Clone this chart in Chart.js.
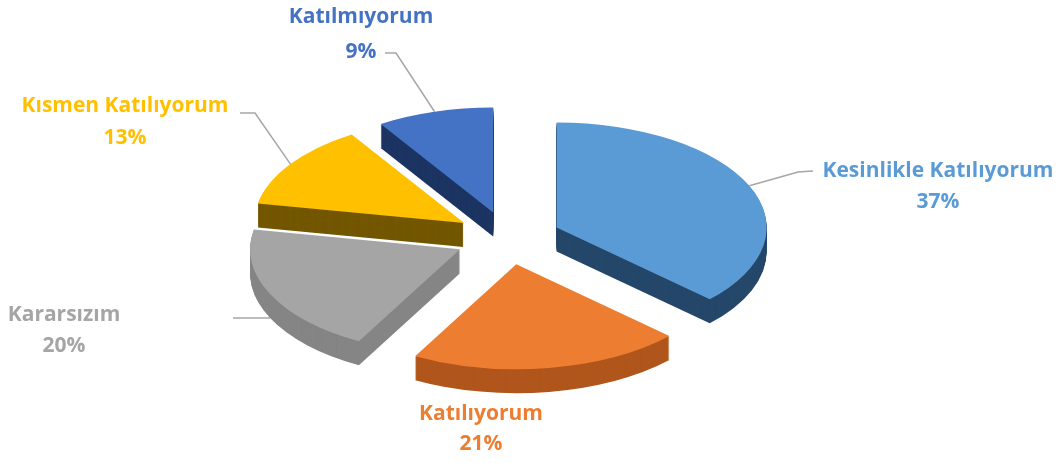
<!DOCTYPE html>
<html>
<head>
<meta charset="utf-8">
<script src="https://cdn.jsdelivr.net/npm/chart.js@4/dist/chart.umd.min.js"></script>
<style>
  html, body { margin: 0; padding: 0; background: #ffffff; }
  #wrap { width: 1064px; height: 463px; }
</style>
</head>
<body>
<div id="wrap"><canvas id="pie" width="1064" height="463"></canvas></div>
<script>
// Survey answers, clockwise from 12 o'clock
const categories = ['Kesinlikle Katılıyorum', 'Katılıyorum', 'Kararsızım', 'Kısmen Katılıyorum', 'Katılmıyorum'];
const shares = [37, 21, 20, 13, 9];
const percentLabels = ['37%', '21%', '20%', '13%', '9%'];

// Top faces and the darker extruded sides
const topColors  = ['#5b9bd5', '#ed7d31', '#a5a5a5', '#ffc000', '#4472c4'];
const sideColors = ['#24476a', '#b0561c', '#858585', '#735600', '#1c3462'];

// 3D look
const TILT = 0.5;     // vertical squash of the disc
const DEPTH = 24;     // thickness in px
const EXPLODE = 53;   // how far each slice is pulled out

// Label placement: text centre x, baselines of the two lines, leader line points
const labelLayout = [
  { x: 938, y1: 177, y2: 208, leader: [[798, 172], [813, 171]], drop: 0 },
  { x: 481, y1: 420, y2: 450, leader: null, drop: 0 },
  { x: 64,  y1: 321, y2: 352, leader: [[233, 318]], drop: DEPTH },
  { x: 125, y1: 112, y2: 144, leader: [[255, 113], [240, 113]], drop: 0 },
  { x: 361, y1: 23,  y2: 58,  leader: [[396, 53], [385, 53]], drop: 0 }
];

const FONT = 'bold 21px "Open Sans", Lato, sans-serif';

function sliceGeom(arc) {
  const mid = (arc.startAngle + arc.endAngle) / 2;
  return { mid, dx: Math.cos(mid) * EXPLODE, dy: Math.sin(mid) * EXPLODE };
}

function applyTilt(ctx, cx, cy) {
  ctx.translate(cx, cy);
  ctx.scale(1, TILT);
  ctx.translate(-cx, -cy);
}

const pie3d = {
  id: 'pie3d',
  beforeDatasetsDraw(chart) {
    const ctx = chart.ctx;
    const meta = chart.getDatasetMeta(0);
    const order = meta.data.map((arc, i) => ({ arc, i, g: sliceGeom(arc) }));
    // paint from the back of the disc to the front
    order.sort((a, b) => Math.sin(a.g.mid) - Math.sin(b.g.mid));
    for (const { arc, i, g } of order) {
      const cx = arc.x, cy = arc.y, r = arc.outerRadius;
      // extruded side: stacked copies of the wedge shifted downwards
      for (let d = DEPTH; d >= 1; d--) {
        ctx.save();
        ctx.translate(0, d);
        applyTilt(ctx, cx, cy);
        ctx.translate(g.dx, g.dy);
        ctx.beginPath();
        ctx.moveTo(cx, cy);
        ctx.arc(cx, cy, r, arc.startAngle, arc.endAngle);
        ctx.closePath();
        ctx.fillStyle = sideColors[i];
        ctx.fill();
        ctx.restore();
      }
      // top face, drawn by the arc element itself
      ctx.save();
      applyTilt(ctx, cx, cy);
      ctx.translate(g.dx, g.dy);
      arc.draw(ctx);
      ctx.restore();
    }
    return false;
  },
  afterDraw(chart) {
    const ctx = chart.ctx;
    const meta = chart.getDatasetMeta(0);
    ctx.save();
    meta.data.forEach((arc, i) => {
      const lay = labelLayout[i];
      if (lay.leader) {
        const g = sliceGeom(arc);
        const sx = arc.x + g.dx + Math.cos(g.mid) * arc.outerRadius;
        const sy = arc.y + (g.dy + Math.sin(g.mid) * arc.outerRadius) * TILT + lay.drop;
        ctx.beginPath();
        ctx.moveTo(sx, sy);
        lay.leader.forEach(p => ctx.lineTo(p[0], p[1]));
        ctx.strokeStyle = '#a6a6a6';
        ctx.lineWidth = 1.5;
        ctx.stroke();
      }
      ctx.font = FONT;
      ctx.textAlign = 'center';
      ctx.textBaseline = 'alphabetic';
      ctx.fillStyle = topColors[i];
      ctx.fillText(categories[i], lay.x, lay.y1);
      ctx.fillText(percentLabels[i], lay.x, lay.y2);
    });
    ctx.restore();
  }
};

new Chart(document.getElementById('pie'), {
  type: 'pie',
  data: {
    labels: categories,
    datasets: [{
      data: shares,
      backgroundColor: topColors,
      borderWidth: 0,
      radius: 210
    }]
  },
  options: {
    responsive: false,
    animation: false,
    events: [],
    layout: { padding: { left: 0, right: 48, top: 13, bottom: 0 } },
    plugins: { legend: { display: false }, tooltip: { enabled: false } }
  },
  plugins: [pie3d]
});
</script>
</body>
</html>
